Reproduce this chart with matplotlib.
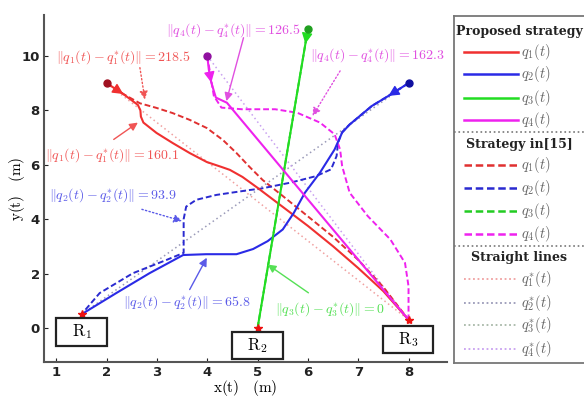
import matplotlib
matplotlib.use("Agg")
import matplotlib.pyplot as plt
from matplotlib.lines import Line2D
from matplotlib.patches import Rectangle

plt.rcParams["mathtext.fontset"] = "cm"

# trajectories of the proposed strategy (solid)
q1_x = [2.0, 2.33, 2.62, 2.67, 2.68, 2.73, 2.99, 3.31, 3.65, 3.99, 4.28, 4.45, 4.7, 5.0, 5.5, 6.0, 6.5, 7.0, 7.5, 8.0]
q1_y = [9.0, 8.6, 8.2, 8.0, 7.77, 7.55, 7.17, 6.8, 6.43, 6.1, 5.92, 5.81, 5.55, 5.15, 4.45, 3.75, 3.0, 2.2, 1.35, 0.3]
q2_x = [8.0, 7.6, 7.27, 6.83, 6.68, 6.53, 6.24, 5.94, 5.72, 5.5, 5.2, 4.91, 4.58, 3.98, 3.52, 2.85, 2.19, 1.5]
q2_y = [9.0, 8.53, 8.16, 7.48, 7.18, 6.56, 5.71, 4.97, 4.23, 3.62, 3.19, 2.9, 2.71, 2.71, 2.68, 2.01, 1.28, 0.5]
q3_x = [6.0, 5.0]
q3_y = [11.0, 0.0]
q4_x = [4.0, 4.03, 4.08, 4.17, 4.39, 8.0]
q4_y = [10.0, 9.5, 9.02, 8.47, 8.28, 0.3]

# trajectories of the strategy in [15] (dashed)
q1d_x = [2.0, 2.33, 2.66, 2.99, 3.31, 3.65, 3.99, 4.31, 4.58, 4.84, 5.1, 5.5, 6.0, 6.5, 7.0, 7.5, 8.0]
q1d_y = [9.0, 8.6, 8.26, 8.09, 7.9, 7.65, 7.35, 6.91, 6.43, 5.92, 5.44, 4.85, 4.1, 3.35, 2.5, 1.5, 0.3]
q2d_x = [8.0, 7.6, 7.27, 6.83, 6.68, 6.6, 6.57, 6.46, 6.16, 5.65, 5.06, 4.84, 4.18, 3.78, 3.58, 3.53, 3.53, 3.19, 2.52, 1.86, 1.5]
q2d_y = [9.0, 8.53, 8.16, 7.48, 7.2, 6.81, 6.32, 5.83, 5.58, 5.34, 5.12, 5.07, 4.89, 4.71, 4.46, 4.0, 2.76, 2.5, 2.01, 1.28, 0.5]
q3d_x = [6.0, 5.0]
q3d_y = [11.0, 0.0]
q4d_x = [4.0, 4.13, 4.28, 4.69, 5.35, 5.79, 6.24, 6.53, 6.64, 6.68, 6.83, 7.19, 7.64, 7.93, 8.0, 8.0, 8.0]
q4d_y = [10.0, 8.53, 8.1, 8.04, 8.04, 7.91, 7.55, 7.12, 6.56, 5.95, 4.97, 4.11, 3.25, 2.39, 1.53, 0.8, 0.3]

# start and goal positions
start_x = [2.0, 8.0, 6.0, 4.0]
start_y = [9.0, 9.0, 11.0, 10.0]
goal_x = [8.0, 1.5, 5.0, 8.0]
goal_y = [0.3, 0.5, 0.0, 0.3]

robot_names = [r"$\mathrm{R}_1$", r"$\mathrm{R}_2$", r"$\mathrm{R}_3$"]
robot_x = [1.5, 5.0, 8.0]
robot_y = [0.5, 0.0, 0.3]

deviation_labels = [
    r"$\Vert q_1(t) - q_1^{*}(t)\Vert = 218.5$",
    r"$\Vert q_1(t) - q_1^{*}(t)\Vert = 160.1$",
    r"$\Vert q_4(t) - q_4^{*}(t)\Vert = 126.5$",
    r"$\Vert q_4(t) - q_4^{*}(t)\Vert = 162.3$",
    r"$\Vert q_2(t) - q_2^{*}(t)\Vert = 93.9$",
    r"$\Vert q_2(t) - q_2^{*}(t)\Vert = 65.8$",
    r"$\Vert q_3(t) - q_3^{*}(t)\Vert = 0$",
]

solid_colors = ["#f03030", "#2a2ae6", "#22dd22", "#ee22ee"]
dashed_colors = ["#e03030", "#2a2ad0", "#22cc22", "#ee22ee"]
straight_colors = ["#f0a0a0", "#9a9ab8", "#a8b8a8", "#c8a0f0"]
marker_colors = ["#a01020", "#1010a0", "#20a020", "#9010a0"]
text_colors = ["#f05555", "#f05555", "#e050e0", "#e050e0", "#5a5ae8", "#5a5ae8", "#55e055"]

fig = plt.figure(figsize=(5.84, 3.99), dpi=100)
ax = fig.add_axes([0.075, 0.093, 0.69, 0.869])

solid = [(q1_x, q1_y), (q2_x, q2_y), (q3_x, q3_y), (q4_x, q4_y)]
dashed = [(q1d_x, q1d_y), (q2d_x, q2d_y), (q3d_x, q3d_y), (q4d_x, q4d_y)]

# where the direction arrow sits on each solid path: segment index and fraction
arrow_seg = [0, 0, 0, 1]
arrow_frac = [1.0, 1.0, 0.05, 1.0]

for i in range(4):
    ax.plot([start_x[i], goal_x[i]], [start_y[i], goal_y[i]], ls=(0, (1, 2)),
            color=straight_colors[i], lw=1.1, zorder=1)
for i, (xs, ys) in enumerate(dashed):
    ax.plot(xs, ys, ls=(0, (3, 1.5)), color=dashed_colors[i], lw=1.4, zorder=2)
for i, (xs, ys) in enumerate(solid):
    ax.plot(xs, ys, color=solid_colors[i], lw=1.5, zorder=3)
    j, f = arrow_seg[i], arrow_frac[i]
    dx, dy = xs[j + 1] - xs[j], ys[j + 1] - ys[j]
    n = abs(dx + 1j * dy)
    hx, hy = xs[j] + f * dx, ys[j] + f * dy
    ax.annotate("", xy=(hx, hy), xytext=(hx - 0.02 * dx / n, hy - 0.02 * dy / n),
                arrowprops=dict(arrowstyle="-|>", color=solid_colors[i], lw=1,
                                mutation_scale=16, shrinkA=0, shrinkB=0), zorder=4)
    ax.plot(start_x[i], start_y[i], "o", ms=5, color=marker_colors[i], zorder=5)

ax.plot(robot_x, robot_y, "*", ms=6, color="#ee1111", zorder=5)

# deviation annotations: text position, arrow tail, arrow head
label_x = [1.0, 0.78, 3.18, 6.05, 0.85, 2.33, 5.35]
label_y = [9.94, 6.34, 10.92, 10.0, 4.85, 0.92, 0.67]
tail_x = [2.66, 2.14, 4.72, 6.64, 2.7, 3.65, 6.01]
tail_y = [9.57, 6.93, 10.67, 9.45, 4.36, 1.41, 1.29]
head_x = [2.76, 2.62, 4.38, 6.09, 3.5, 3.99, 5.2]
head_y = [8.4, 7.55, 8.34, 7.79, 3.93, 2.58, 2.33]
arrow_dotted = [True, False, False, True, True, False, False]

for k, lab in enumerate(deviation_labels):
    ax.text(label_x[k], label_y[k], lab, color=text_colors[k], fontsize=10,
            ha="left", va="center", zorder=6)
    ax.annotate("", xy=(head_x[k], head_y[k]), xytext=(tail_x[k], tail_y[k]),
                arrowprops=dict(arrowstyle="-|>", color=text_colors[k], lw=1.0,
                                ls=":" if arrow_dotted[k] else "-",
                                mutation_scale=12, shrinkA=0, shrinkB=0), zorder=6)

# robot name boxes
box_cx = [1.5, 5.0, 7.99]
box_cy = [-0.15, -0.66, -0.42]
for k, name in enumerate(robot_names):
    ax.add_patch(Rectangle((box_cx[k] - 0.5, box_cy[k] - 0.5), 1.0, 1.0, fill=True,
                           facecolor="white", edgecolor="#222222", lw=1.6, zorder=7))
    ax.text(box_cx[k], box_cy[k], name, fontsize=12, ha="center", va="center", zorder=8)

ax.set_xlim(0.75, 8.76)
ax.set_ylim(-1.25, 11.5)
ax.set_xticks([1, 2, 3, 4, 5, 6, 7, 8])
ax.set_yticks([0, 2, 4, 6, 8, 10])
ax.tick_params(direction="in", length=3, labelsize=9.5, colors="#222222", pad=3)
for lab in ax.get_xticklabels() + ax.get_yticklabels():
    lab.set_fontweight("bold")
for side in ("top", "right"):
    ax.spines[side].set_visible(False)
for side in ("left", "bottom"):
    ax.spines[side].set_color("#555555")
    ax.spines[side].set_linewidth(1.5)
ax.set_xlabel(r"$\mathrm{x(t)\ \ \ (m)}$", fontsize=11, labelpad=-1)
ax.set_ylabel(r"$\mathrm{y(t)\ \ \ (m)}$", fontsize=11, labelpad=-4)

# custom sectioned legend drawn in pixel units
leg = fig.add_axes([453.6 / 584, 36 / 399, 140 / 584, 347 / 399])
leg.set_xlim(453.6, 593.6)
leg.set_ylim(363, 16)
leg.set_xticks([])
leg.set_yticks([])
for side in leg.spines.values():
    side.set_color("#777777")
    side.set_linewidth(1.3)

sections = ["Proposed strategy", "Strategy in[15]", "Straight lines"]
section_styles = ["-", (0, (3, 1.5)), (0, (1, 1.5))]
section_colors = [solid_colors, dashed_colors, straight_colors]
header_y = [31, 145, 258]
row_y = [[52, 74, 98, 120], [165, 188, 211, 234], [279, 303, 325, 349]]
separator_y = [132, 246]
item_labels = [
    [r"$q_{%d}(t)$" % (i + 1) for i in range(4)],
    [r"$q_{%d}(t)$" % (i + 1) for i in range(4)],
    [r"$q_{%d}^{*}(t)$" % (i + 1) for i in range(4)],
]

for s, title in enumerate(sections):
    leg.text(519, header_y[s], title, fontsize=9, fontweight="bold",
             family="DejaVu Serif", ha="center", va="center", color="#222222")
    for i in range(4):
        leg.add_line(Line2D([464, 518], [row_y[s][i], row_y[s][i]],
                            color=section_colors[s][i], ls=section_styles[s],
                            lw=1.8 if s < 2 else 1.3))
        leg.text(521, row_y[s][i], item_labels[s][i], fontsize=10.5,
                 ha="left", va="center", color="#666666")
for yy in separator_y:
    leg.add_line(Line2D([453.6, 593.6], [yy, yy], color="#777777", ls=":", lw=1.2))

fig.savefig("out.png", dpi=100)
